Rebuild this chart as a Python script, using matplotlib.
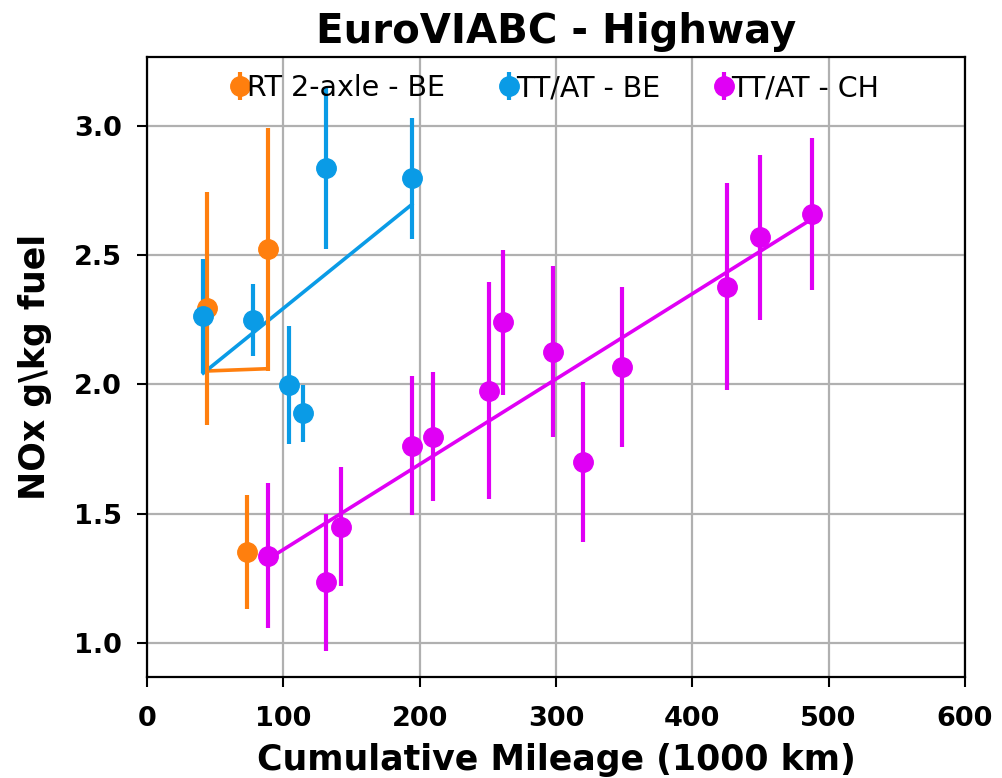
import numpy as np
import matplotlib
matplotlib.use("Agg")
import matplotlib.pyplot as plt

# NOx per kg fuel vs cumulative mileage, per vehicle group
rt_be_km = [43.8, 88.5, 73.1]
rt_be_nox = [2.295, 2.523, 1.353]
rt_be_err = [0.45, 0.47, 0.22]

tt_be_km = [41.3, 78.0, 131.1, 194.2, 104.2, 114.7]
tt_be_nox = [2.266, 2.250, 2.836, 2.798, 1.998, 1.889]
tt_be_err = [0.22, 0.14, 0.31, 0.235, 0.23, 0.11]

tt_ch_km = [88.5, 131.3, 142.3, 194.2, 209.5, 250.9, 261.4, 298.0, 319.6, 348.6, 425.2, 449.6, 487.5]
tt_ch_nox = [1.337, 1.235, 1.450, 1.763, 1.798, 1.975, 2.241, 2.127, 1.701, 2.069, 2.379, 2.569, 2.660]
tt_ch_err = [0.28, 0.265, 0.23, 0.27, 0.25, 0.42, 0.28, 0.33, 0.31, 0.31, 0.40, 0.32, 0.295]

groups = [
    ("RT 2-axle - BE", rt_be_km, rt_be_nox, rt_be_err, "#ff7f0e"),
    ("TT/AT - BE", tt_be_km, tt_be_nox, tt_be_err, "#0a9be6"),
    ("TT/AT - CH", tt_ch_km, tt_ch_nox, tt_ch_err, "#e000f5"),
]

fig = plt.figure(figsize=(10.02, 7.78), dpi=100)
ax = fig.add_axes([0.1467, 0.1298, 0.8163, 0.7969])

for label, km, nox, err, color in groups:
    ax.errorbar(km, nox, yerr=err, fmt="o", color=color, markersize=14,
                elinewidth=3, label=label, zorder=3)
    # linear trend over the mileage range of the group
    slope, intercept = np.polyfit(km, nox, 1)
    xs = np.array([min(km), max(km)])
    ax.plot(xs, slope * xs + intercept, color=color, linewidth=2.6, zorder=2)

ax.set_xlim(0, 600)
ax.set_ylim(0.868, 3.267)
ax.set_xticks(np.arange(0, 601, 100))
ax.set_yticks([1.0, 1.5, 2.0, 2.5, 3.0])
ax.grid(True, color="#b0b0b0", linewidth=1.6, zorder=0)

ax.set_title("EuroVIABC - Highway", fontsize=29, fontweight="bold", pad=10)
ax.set_xlabel("Cumulative Mileage (1000 km)", fontsize=25, fontweight="bold", labelpad=8)
ax.set_ylabel("NOx g\\kg fuel", fontsize=25, fontweight="bold", labelpad=16)

for lbl in ax.get_xticklabels() + ax.get_yticklabels():
    lbl.set_fontweight("bold")
ax.tick_params(labelsize=19.5, width=1.5, length=7)
ax.tick_params(axis="x", pad=14)
ax.tick_params(axis="y", pad=11)
for spine in ax.spines.values():
    spine.set_linewidth(1.6)

ax.legend(loc="upper center", ncol=3, frameon=False, fontsize=20.5,
          handlelength=0.5, handletextpad=0.0, columnspacing=2.0,
          borderaxespad=0.2)

plt.savefig("out.png", dpi=100)
plt.close()
